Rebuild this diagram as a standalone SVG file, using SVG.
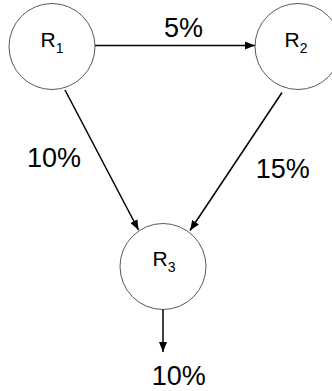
<svg xmlns="http://www.w3.org/2000/svg" width="332" height="391" viewBox="0 0 332 391">
<style>
.node{fill:#fff;stroke:#595959;stroke-width:1}
.lbl{font-family:"Liberation Sans",Arial,sans-serif;font-size:21px;fill:#000;text-anchor:middle}
.sub{font-size:14px}
.pct{font-family:"Liberation Sans",Arial,sans-serif;font-size:27px;fill:#000;text-anchor:middle}
.edge{stroke:#000;stroke-width:1.5;fill:none;marker-end:url(#ah)}
</style>
<defs>
<marker id="ah" markerUnits="userSpaceOnUse" markerWidth="10" markerHeight="8" refX="10" refY="4" orient="auto">
<path d="M0,0 L10,4 L0,8 Z" fill="#000"/>
</marker>
</defs>
<rect width="332" height="391" fill="#fff"/>
<g id="R1">
<circle class="node" cx="52" cy="46.5" r="43"/>
<text class="lbl" x="52" y="47">R<tspan class="sub" dy="6">1</tspan></text>
</g>
<g id="R2">
<circle class="node" cx="298" cy="46.5" r="43"/>
<text class="lbl" x="296" y="47">R<tspan class="sub" dy="6">2</tspan></text>
</g>
<g id="R3">
<circle class="node" cx="163" cy="266.5" r="43"/>
<text class="lbl" x="164" y="265.5">R<tspan class="sub" dy="6">3</tspan></text>
</g>
<g id="connectors">
<line class="edge" x1="95" y1="45.5" x2="255" y2="45.5"/>
<line class="edge" x1="65" y1="90" x2="138.5" y2="230"/>
<line class="edge" x1="282" y1="92.5" x2="190" y2="230.5"/>
<line class="edge" x1="163" y1="309.5" x2="163" y2="352"/>
</g>
<g id="labels">
<text class="pct" x="183.5" y="37.3">5%</text>
<text class="pct" x="54" y="167.3">10%</text>
<text class="pct" x="282.7" y="178.3">15%</text>
<text class="pct" x="178.7" y="385">10%</text>
</g>
</svg>
